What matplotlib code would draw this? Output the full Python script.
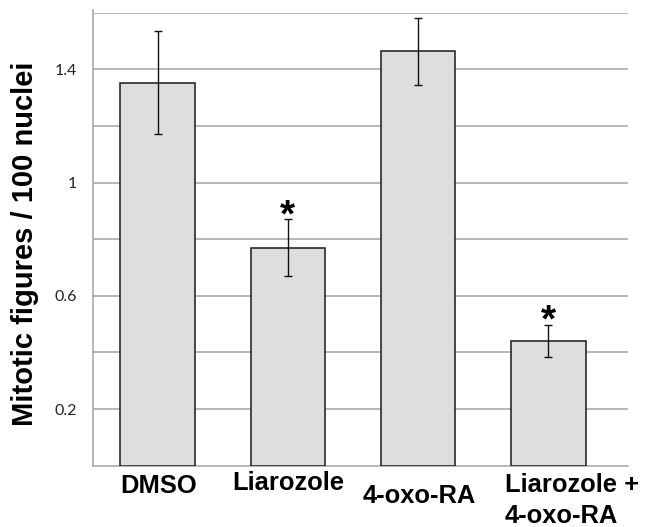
import matplotlib
matplotlib.use("Agg")
import matplotlib.pyplot as plt

# ---- data ----
categories = ["DMSO", "Liarozole", "4-oxo-RA", "Liarozole +\n4-oxo-RA"]
means = [1.352, 0.770, 1.464, 0.441]
errors = [0.182, 0.100, 0.118, 0.057]
significant = [False, True, False, True]
ytick_values = [0.2, 0.6, 1.0, 1.4]
ytick_labels = ["0.2", "0.6", "1", "1.4"]
ylabel = "Mitotic figures / 100 nuclei"

# ---- layout (pixel offsets of category labels relative to bar centre / axis bottom) ----
label_dx_px = [0.7, -0.2, 1.5, -43.7]
label_dy_px = [27.6, 24.3, 37.6, 57.6]
label_ha = ["center", "center", "center", "left"]

DPI = 100
fig = plt.figure(figsize=(6.45, 5.27), dpi=DPI)
W, H = 645, 527
ax = fig.add_axes([92.7 / W, 1 - 465.7 / H, (627.7 - 92.7) / W, (465.7 - 12.7) / H])

x = list(range(len(categories)))
ax.bar(x, means, width=0.574, color="#dedede", edgecolor="#1a1a1a",
       linewidth=1.1, zorder=3)
ax.errorbar(x, means, yerr=errors, fmt="none", ecolor="#111111",
            elinewidth=1.0, capsize=3.2, capthick=1.0, zorder=4)

ax.set_xlim(-0.5, 3.61)
ax.set_ylim(0, 1.6)
ax.set_yticks(ytick_values, labels=ytick_labels)
ax.set_yticks([0.4, 0.8, 1.2, 1.6], minor=True)
ax.yaxis.grid(True, which="both", color="#a3a3a3", linewidth=1.1, zorder=0)
ax.set_axisbelow(True)
ax.tick_params(axis="y", which="both", length=0, pad=11, labelsize=11.5,
               labelcolor="#222222")
for lab in ax.get_yticklabels():
    lab.set_family("Lato")
ax.set_xticks([])

for s in ["top", "right"]:
    ax.spines[s].set_visible(False)
ax.spines["left"].set_color("#a3a3a3")
ax.spines["bottom"].set_color("#a3a3a3")
ax.spines["left"].set_linewidth(1.1)
ax.spines["bottom"].set_linewidth(1.1)
ax.spines["left"].set_bounds(0, 1.61)

px2pt = 72.0 / DPI
for i, cat in enumerate(categories):
    ax.annotate(cat, xy=(i, 0), xycoords=("data", "axes fraction"),
                xytext=(label_dx_px[i] * px2pt, -label_dy_px[i] * px2pt),
                textcoords="offset points", ha=label_ha[i], va="baseline",
                fontsize=18.4, fontweight="bold", family="Liberation Sans",
                linespacing=1.36, annotation_clip=False)

for i, sig in enumerate(significant):
    if sig:
        ax.annotate("*", xy=(i, means[i] + errors[i]), xycoords="data",
                    xytext=(0, -7 * px2pt), textcoords="offset points",
                    ha="center", va="baseline", fontsize=28,
                    fontweight="bold", family="Liberation Sans")

fig.text(25.5 / W, 1 - 243.4 / H, ylabel, rotation=90, ha="center",
         va="center", fontsize=21, fontweight="bold", family="Liberation Sans")

fig.savefig("out.png", dpi=DPI)
